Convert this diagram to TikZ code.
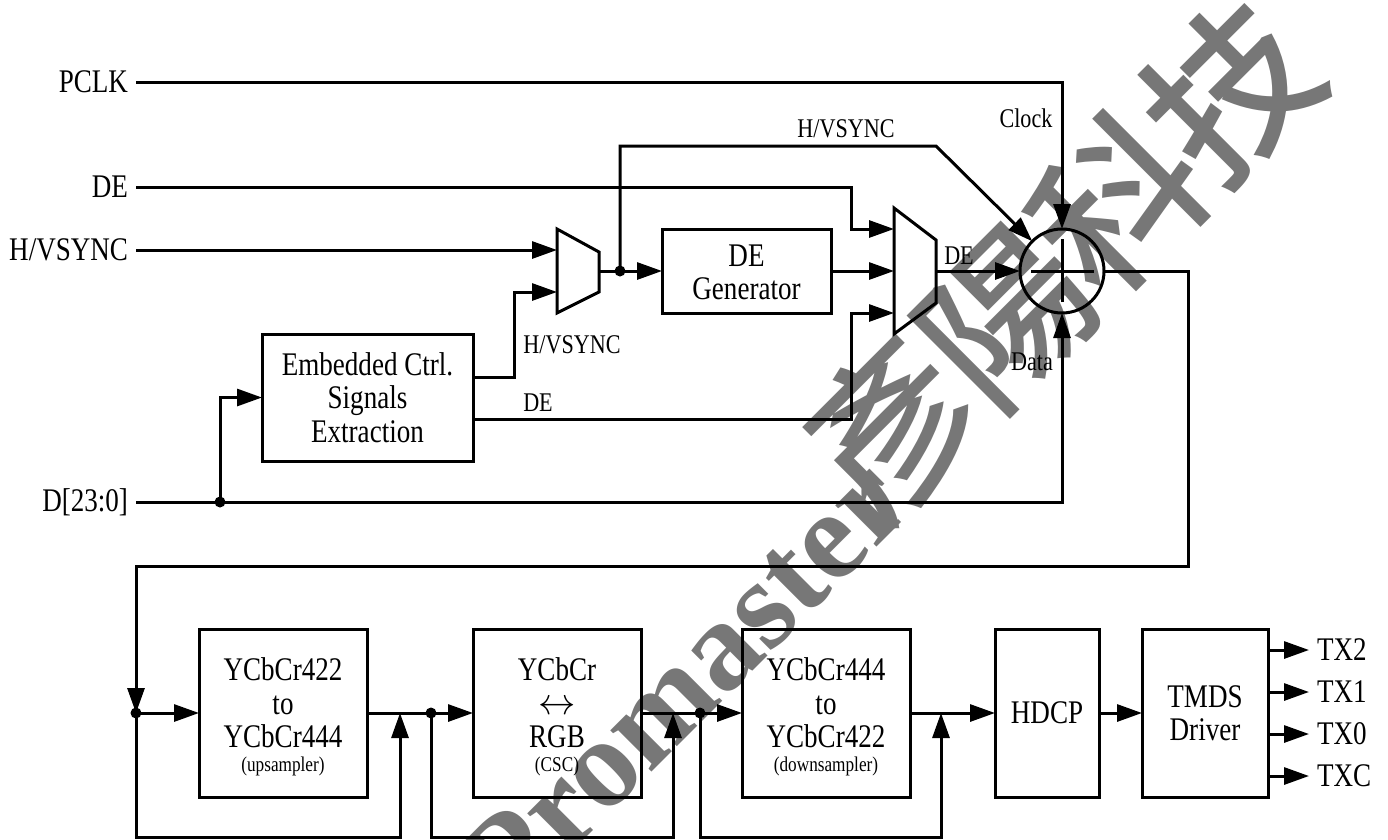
\documentclass[tikz,border=0pt]{standalone}
\usepackage{fontspec}
\usepackage{graphicx}
\setmainfont{Liberation Serif}[FakeStretch=0.82]
\newfontfamily\wmfont{Liberation Serif}
\newfontfamily\cjk{Noto Sans CJK TC}[BoldFont={Noto Sans CJK TC Medium}]
\usetikzlibrary{arrows.meta,calc}
\definecolor{wm}{HTML}{777777}
\newcommand{\bigf}{\fontsize{33}{33.5}\selectfont}
\newcommand{\midf}{\fontsize{27}{30}\selectfont}
\newcommand{\smlf}{\fontsize{21}{24}\selectfont}
\newcommand{\topstrut}[1]{\rule{0pt}{#1pt}}
\newcommand{\dblarrow}{\scalebox{1.5}{$\leftrightarrow$}}
\tikzset{
  wire/.style={line width=3pt,line join=miter,line cap=butt},
  arr/.style={wire,-{Triangle[length=25pt,width=17pt]}},
  block/.style={draw,line width=3pt,align=center,inner sep=0pt,outer sep=0pt,font=\bigf,anchor=center},
  mux/.style={draw,line width=3pt,line join=miter},
  inlab/.style={anchor=east,inner xsep=8pt,inner ysep=0pt,outer sep=0pt,font=\bigf},
  outlab/.style={anchor=west,inner xsep=8pt,inner ysep=0pt,outer sep=0pt,font=\bigf},
  note/.style={inner sep=0pt,font=\midf},
  joint/.style={circle,fill=black,inner sep=0pt,outer sep=0pt,minimum size=11pt},
  wmark/.style={text=wm,inner sep=0pt,rotate=45}
}
\begin{document}
\begin{tikzpicture}[x=1pt,y=-1pt]
\useasboundingbox (0,0) rectangle (1388,839);
% watermark
\begin{scope}
\clip (0,0) rectangle (1388,839);
\node[wmark,font={\fontsize{127}{127}\selectfont\wmfont\bfseries}] (wma) at (684,682) {Promaster};
\node[wmark,font={\fontsize{165}{165}\selectfont\cjk\bfseries}] (wmb) at (1061,259) {彥\kern-6pt 陽\kern-6pt 科\kern-6pt 技};
\end{scope}
% input labels
\node[inlab] (pclk) at (136,82) {PCLK};
\node[inlab] (de) at (136,187) {DE};
\node[inlab] (hv) at (136,250) {H/VSYNC};
\node[inlab] (din) at (136,502) {D[23:0]};
% blocks
\node[block,minimum width=211pt,minimum height=127pt] (ext) at (367.5,397.5) {Embedded Ctrl.\\Signals\\Extraction};
\node[block,minimum width=169pt,minimum height=84pt] (gen) at (746.5,271) {\topstrut{24}DE\\Generator};
\node[block,minimum width=168pt,minimum height=168pt] (bone) at (283,713) {\topstrut{30}YCbCr422\\to\\YCbCr444\\[-10pt]{\smlf (upsampler)}};
\node[block,minimum width=168pt,minimum height=168pt] (btwo) at (557,713) {\topstrut{30}YCbCr\\\dblarrow\\RGB\\[-10pt]{\smlf (CSC)}};
\node[block,minimum width=168pt,minimum height=168pt] (bthree) at (826,713) {\topstrut{30}YCbCr444\\to\\YCbCr422\\[-10pt]{\smlf (downsampler)}};
\node[block,minimum width=104pt,minimum height=168pt] (hdcp) at (1047,713) {HDCP};
\node[block,minimum width=126pt,minimum height=168pt] (tmds) at (1205,713) {TMDS\\Driver};
% muxes
\draw[mux] (557,229) -- (599,252) -- (599,292) -- (557,313) -- cycle;
\draw[mux] (894,208) -- (936,240) -- (936,303) -- (894,334) -- cycle;
\coordinate (ma1) at (557,250);
\coordinate (ma2) at (557,292);
\coordinate (maout) at (599,271);
\coordinate (mb1) at (894,229);
\coordinate (mb2) at (894,271);
\coordinate (mb3) at (894,313);
\coordinate (mbout) at (936,271);
% mixer
\node[circle,draw,line width=3pt,minimum size=84pt,inner sep=0pt,outer sep=0pt] (mix) at (1062,271) {};
\draw[wire] ([xshift=-31pt]mix.center) -- ([xshift=32pt]mix.center);
\draw[wire] ([yshift=-31pt]mix.center) -- ([yshift=32pt]mix.center);
% joints
\node[joint] (ja) at (620,271) {};
\node[joint] (jb) at (220,502) {};
\node[joint] (jc) at (136,713) {};
\node[joint] (jd) at (431,713) {};
\node[joint] (je) at (700,713) {};
% helper points
\coordinate (hvbend) at (936,146);
\coordinate (exthv) at (473,377);
\coordinate (extde) at (473,419);
\coordinate (loopr) at (1188,566);
\coordinate (loopl) at (136,566);
\coordinate (fa) at (400,837);
\coordinate (fb) at (673,837);
\coordinate (fc) at (941,837);
\coordinate (ma) at (400,713);
\coordinate (mc) at (673,713);
\coordinate (md) at (941,713);
% top section wires
\draw[arr] (pclk.east) -| (mix.north);
\draw[arr] (din.east) -| (mix.south);
\draw[arr] (jb.center) |- (ext.west);
\draw[arr] (hv.east) -- (ma1);
\draw[arr] (exthv) -- ++(41,0) |- (ma2);
\draw[arr] (extde) -- ++(378,0) |- (mb3);
\draw[arr] (de.east) -- ++(715,0) |- (mb1);
\draw[arr] (maout) -- (gen.west);
\draw[arr] (ja.center) |- (hvbend) -- (mix.135);
\draw[arr] (gen.east) -- (mb2);
\draw[arr] (mbout) -- (mix.west);
% loop to lower row
\draw[arr] (mix.east) -| (loopr) -- (loopl) -- (jc.center);
% lower row
\draw[arr] (jc.center) -- (bone.west);
\draw[arr] (bone.east) -- (btwo.west);
\draw[arr] (btwo.east) -- (bthree.west);
\draw[arr] (bthree.east) -- (hdcp.west);
\draw[arr] (hdcp.east) -- (tmds.west);
\draw[arr] (jc.center) |- (fa) -- (ma);
\draw[arr] (jd.center) |- (fb) -- (mc);
\draw[arr] (je.center) |- (fc) -- (md);
% outputs
\node[outlab] (txb) at (1309,650) {TX2};
\node[outlab] (txa) at (1309,692) {TX1};
\node[outlab] (txz) at (1309,734) {TX0};
\node[outlab] (txc) at (1309,776) {TXC};
\draw[arr] (tmds.east |- txb.west) -- (txb.west);
\draw[arr] (tmds.east |- txa.west) -- (txa.west);
\draw[arr] (tmds.east |- txz.west) -- (txz.west);
\draw[arr] (tmds.east |- txc.west) -- (txc.west);
% notes
\node[note] (nhv) at (846,129) {H/VSYNC};
\node[note] (nclk) at (1026,118) {Clock};
\node[note] (nde) at (959,256) {DE};
\node[note] (ndata) at (1032,362) {Data};
\node[note] (nsync) at (572,345) {H/VSYNC};
\node[note] (ndeb) at (538,403) {DE};
\end{tikzpicture}
\end{document}
